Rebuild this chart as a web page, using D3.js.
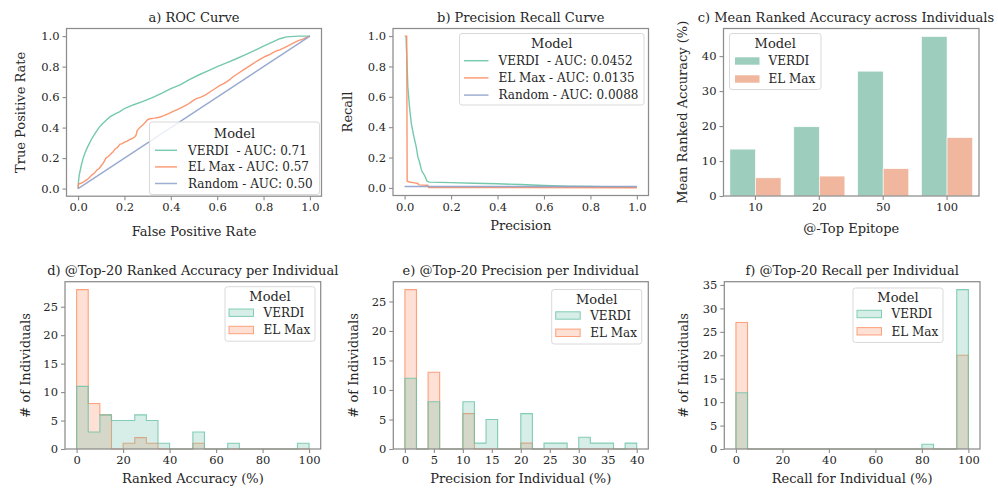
<!DOCTYPE html>
<html>
<head>
<meta charset="utf-8">
<script src="https://cdn.jsdelivr.net/npm/d3@7"></script>
<style>
  html, body { margin: 0; padding: 0; background: #fff; }
  svg { display: block; font-family: "DejaVu Serif", serif; }
</style>
</head>
<body>
<svg id="fig" width="998" height="488"></svg>
<script>
// ---------- data ----------
const models = ["VERDI", "EL Max"];

// ROC curves, [false positive rate, true positive rate]
const rocVerdi = [[0,0],[0.002,0.05],[0.005,0.09],[0.01,0.125],[0.015,0.16],[0.022,0.2],[0.03,0.235],
  [0.04,0.27],[0.05,0.3],[0.06,0.33],[0.075,0.365],[0.09,0.4],[0.105,0.425],[0.12,0.447],[0.137,0.47],
  [0.16,0.49],[0.18,0.505],[0.2,0.525],[0.24,0.55],[0.28,0.572],[0.32,0.597],[0.36,0.625],[0.4,0.655],
  [0.44,0.68],[0.48,0.715],[0.52,0.745],[0.56,0.772],[0.6,0.8],[0.64,0.825],[0.68,0.85],[0.72,0.877],
  [0.76,0.905],[0.8,0.935],[0.84,0.963],[0.87,0.983],[0.9,0.995],[0.95,1],[1,1]];
const rocElMax = [[0,0],[0.002,0.03],[0.012,0.035],[0.02,0.04],[0.03,0.05],[0.04,0.06],[0.05,0.075],
  [0.06,0.09],[0.07,0.1],[0.08,0.12],[0.09,0.13],[0.1,0.15],[0.11,0.17],[0.12,0.2],[0.13,0.21],
  [0.14,0.225],[0.15,0.24],[0.16,0.26],[0.17,0.27],[0.18,0.29],[0.19,0.295],[0.2,0.305],[0.21,0.31],
  [0.22,0.32],[0.235,0.33],[0.245,0.34],[0.25,0.35],[0.255,0.38],[0.26,0.39],[0.27,0.405],[0.28,0.418],
  [0.29,0.435],[0.3,0.452],[0.31,0.458],[0.33,0.462],[0.35,0.468],[0.37,0.478],[0.39,0.492],[0.41,0.507],
  [0.43,0.52],[0.45,0.535],[0.47,0.55],[0.49,0.57],[0.51,0.59],[0.53,0.6],[0.55,0.615],[0.57,0.635],
  [0.59,0.655],[0.61,0.675],[0.63,0.69],[0.65,0.71],[0.67,0.735],[0.69,0.755],[0.71,0.775],[0.73,0.795],
  [0.75,0.815],[0.77,0.835],[0.79,0.852],[0.81,0.868],[0.83,0.882],[0.85,0.9],[0.87,0.91],[0.89,0.925],
  [0.91,0.94],[0.93,0.955],[0.95,0.97],[0.97,0.98],[0.99,0.995],[1,1]];
const rocRandom = [[0,0],[1,1]];
const rocAuc = {"VERDI": "0.71", "EL Max": "0.57", "Random": "0.50"};

// Precision-recall curves, [precision, recall]
const prVerdi = [[0.006,1.0],[0.01,0.84],[0.014,0.664],[0.021,0.533],[0.029,0.423],[0.04,0.336],
  [0.05,0.27],[0.057,0.204],[0.064,0.171],[0.071,0.127],[0.076,0.105],[0.083,0.09],[0.089,0.072],
  [0.096,0.044],[0.107,0.038],[0.2,0.035],[0.3,0.031],[0.4,0.027],[0.5,0.022],[0.6,0.016],
  [0.7,0.012],[0.8,0.009],[0.9,0.006],[1.0,0.004]];
const prElMax = [[0.0,1.0],[0.009,1.0],[0.011,0.044],[0.021,0.039],[0.043,0.033],[0.057,0.029],
  [0.061,0.02],[0.1,0.018],[0.104,0.002],[1.0,0.001]];
const prRandom = [[0,0.0088],[1,0.0088]];
const prAuc = {"VERDI": "0.0452", "EL Max": "0.0135", "Random": "0.0088"};

// Mean ranked accuracy (%) at each top-k cutoff
const topK = ["10", "20", "50", "100"];
const meanAccVerdi = [13.4, 19.8, 35.7, 45.6];
const meanAccElMax = [5.2, 5.7, 7.8, 16.7];

// Per-individual histograms (counts per bin)
const accBinEdges = d3.range(0, 101, 5);
const accCountsVerdi = [11,3,6,5,5,6,5,1,0,0,3,0,0,1,0,0,0,0,0,1];
const accCountsElMax = [28,8,6,0,1,2,1,0,0,0,1,0,0,0,0,0,0,0,0,0];

const precBinEdges = d3.range(0, 41, 2);
const precCountsVerdi = [12,0,8,0,0,8,1,5,0,0,6,0,1,1,0,2,1,1,0,1];
const precCountsElMax = [27,0,13,0,0,6,0,0,0,0,1,0,0,0,0,0,0,0,0,0];

const recBinEdges = d3.range(0, 101, 5);
const recCountsVerdi = [12,0,0,0,0,0,0,0,0,0,0,0,0,0,0,0,1,0,0,34];
const recCountsElMax = [27,0,0,0,0,0,0,0,0,0,0,0,0,0,0,0,0,0,0,20];

// ---------- style ----------
const colors = {"VERDI": "#66c2a5", "EL Max": "#fc8d62", "Random": "#8da0cb"};
const barColors = {"VERDI": "#9ccdbd", "EL Max": "#f0b69e"};
const textColor = "#262626";
const spineColor = "#8c8c8c";
const FONT_TICK = 11.5, FONT_LABEL = 13, FONT_TITLE = 13, FONT_LEG = 12, FONT_LEG_TITLE = 13;

const svg = d3.select("#fig");

function panel(box) {
  const g = svg.append("g");
  return {g, box};
}

function frame(p) {
  const b = p.box;
  p.g.append("rect").attr("x", b.x0).attr("y", b.y0)
    .attr("width", b.x1 - b.x0).attr("height", b.y1 - b.y0)
    .attr("fill", "none").attr("stroke", spineColor).attr("stroke-width", 1.25);
}

function styleAxis(sel) {
  sel.select(".domain").remove();
  sel.selectAll(".tick line").attr("stroke", spineColor).attr("stroke-width", 1.1);
  sel.selectAll(".tick text").attr("fill", textColor).attr("font-size", FONT_TICK)
    .attr("font-family", "DejaVu Serif");
}

function axes(p, x, y, xTicks, yTicks, xFmt, yFmt) {
  const b = p.box;
  const ax = d3.axisBottom(x).tickSize(4).tickPadding(3);
  if (xTicks) ax.tickValues(xTicks);
  if (xFmt) ax.tickFormat(xFmt);
  p.g.append("g").attr("transform", `translate(0,${b.y1})`).call(ax).call(styleAxis);
  const ay = d3.axisLeft(y).tickSize(4).tickPadding(3).tickValues(yTicks);
  if (yFmt) ay.tickFormat(yFmt);
  p.g.append("g").attr("transform", `translate(${b.x0},0)`).call(ay).call(styleAxis);
}

// t: {text, x (optional)}, xl: {text, y}, yl: {text, dx}
function labels(p, t, xl, yl) {
  const b = p.box;
  const cx = (b.x0 + b.x1) / 2, cy = (b.y0 + b.y1) / 2;
  p.g.append("text").attr("x", t.x !== undefined ? t.x : cx).attr("y", b.y0 - 6.5)
    .attr("text-anchor", "middle").attr("font-size", FONT_TITLE)
    .attr("fill", textColor).text(t.text);
  p.g.append("text").attr("x", cx).attr("y", xl.y)
    .attr("text-anchor", "middle").attr("font-size", FONT_LABEL).attr("fill", textColor).text(xl.text);
  p.g.append("text").attr("transform", `translate(${b.x0 - yl.dx},${cy}) rotate(-90)`)
    .attr("text-anchor", "middle").attr("dy", "0.35em").attr("font-size", FONT_LABEL)
    .attr("fill", textColor).text(yl.text);
}

// legend: items [{name, label, kind: "line"|"bar"|"hist"}]
function legend(p, lx, ly, w, h, items, opts) {
  const g = p.g.append("g").attr("transform", `translate(${lx},${ly})`);
  g.append("rect").attr("width", w).attr("height", h).attr("rx", 2.5)
    .attr("fill", "#fff").attr("fill-opacity", 0.8).attr("stroke", "#d9d9d9").attr("stroke-width", 1);
  g.append("text").attr("x", w / 2 + (opts.titleDx || 0)).attr("y", opts.titleY)
    .attr("text-anchor", "middle").attr("dy", "0.35em").attr("font-size", FONT_LEG_TITLE)
    .attr("fill", textColor).text("Model");
  items.forEach((it, i) => {
    const yy = opts.firstY + i * opts.step;
    if (it.kind === "line") {
      g.append("line").attr("x1", opts.mx0).attr("x2", opts.mx1).attr("y1", yy).attr("y2", yy)
        .attr("stroke", colors[it.name]).attr("stroke-width", 1.5).attr("stroke-opacity", 0.85);
    } else if (it.kind === "bar") {
      g.append("rect").attr("x", opts.mx0).attr("y", yy - 3.7).attr("width", opts.mx1 - opts.mx0)
        .attr("height", 7.4).attr("fill", barColors[it.name]);
    } else {
      g.append("rect").attr("x", opts.mx0).attr("y", yy - 3.7).attr("width", opts.mx1 - opts.mx0)
        .attr("height", 7.4).attr("fill", colors[it.name]).attr("fill-opacity", 0.27)
        .attr("stroke", colors[it.name]).attr("stroke-opacity", 0.8).attr("stroke-width", 1);
    }
    g.append("text").attr("x", opts.tx).attr("y", yy).attr("dy", "0.35em")
      .attr("font-size", FONT_LEG).attr("fill", textColor)
      .style("white-space", "pre").text(it.label);
  });
}

const fmt1 = d3.format(".1f");

// ---------- a) ROC curve ----------
{
  const p = panel({x0: 66.5, x1: 321.5, y0: 28.5, y1: 196.2});
  const x = d3.scaleLinear().domain([-0.05, 1.05]).range([p.box.x0, p.box.x1]);
  const y = d3.scaleLinear().domain([-0.05, 1.05]).range([p.box.y1, p.box.y0]);
  const line = d3.line().x(d => x(d[0])).y(d => y(d[1]));
  [["VERDI", rocVerdi], ["EL Max", rocElMax], ["Random", rocRandom]].forEach(([n, data]) => {
    p.g.append("path").attr("d", line(data)).attr("fill", "none")
      .attr("stroke", colors[n]).attr("stroke-width", 1.4).attr("stroke-opacity", 0.9);
  });
  frame(p);
  const t = [0, 0.2, 0.4, 0.6, 0.8, 1.0];
  axes(p, x, y, t, t, fmt1, fmt1);
  labels(p, {text: "a) ROC Curve"}, {text: "False Positive Rate", y: 235.5},
    {text: "True Positive Rate", dx: 46});
  legend(p, 149.5, 122, 170, 72.5, [
    {name: "VERDI", label: "VERDI  - AUC: " + rocAuc["VERDI"], kind: "line"},
    {name: "EL Max", label: "EL Max - AUC: " + rocAuc["EL Max"], kind: "line"},
    {name: "Random", label: "Random - AUC: " + rocAuc["Random"], kind: "line"}
  ], {titleY: 11, firstY: 28.3, step: 16.6, mx0: 5.5, mx1: 27.5, tx: 38.5});
}

// ---------- b) Precision recall curve ----------
{
  const p = panel({x0: 393, x1: 648.5, y0: 28.5, y1: 195.5});
  const x = d3.scaleLinear().domain([-0.05, 1.05]).range([p.box.x0, p.box.x1]);
  const y = d3.scaleLinear().domain([-0.05, 1.05]).range([p.box.y1, p.box.y0]);
  const line = d3.line().x(d => x(d[0])).y(d => y(d[1]));
  [["VERDI", prVerdi], ["EL Max", prElMax], ["Random", prRandom]].forEach(([n, data]) => {
    p.g.append("path").attr("d", line(data)).attr("fill", "none")
      .attr("stroke", colors[n]).attr("stroke-width", 1.4).attr("stroke-opacity", 0.9);
  });
  frame(p);
  const t = [0, 0.2, 0.4, 0.6, 0.8, 1.0];
  axes(p, x, y, t, t, fmt1, fmt1);
  labels(p, {text: "b) Precision Recall Curve"}, {text: "Precision", y: 229.5},
    {text: "Recall", dx: 46});
  legend(p, 459.5, 33.5, 184.5, 71.5, [
    {name: "VERDI", label: "VERDI  - AUC: " + prAuc["VERDI"], kind: "line"},
    {name: "EL Max", label: "EL Max - AUC: " + prAuc["EL Max"], kind: "line"},
    {name: "Random", label: "Random - AUC: " + prAuc["Random"], kind: "line"}
  ], {titleY: 10, firstY: 27.2, step: 17.2, mx0: 4.5, mx1: 29, tx: 39});
}

// ---------- c) Mean ranked accuracy bars ----------
{
  const p = panel({x0: 723.5, x1: 979, y0: 28.5, y1: 196});
  const x = d3.scaleBand().domain(topK).range([p.box.x0, p.box.x1]).padding(0);
  const y = d3.scaleLinear().domain([0, 47.9]).range([p.box.y1, p.box.y0]);
  const sub = d3.scaleBand().domain(models).range([0, x.bandwidth()]).paddingOuter(0.25).paddingInner(0);
  const series = {"VERDI": meanAccVerdi, "EL Max": meanAccElMax};
  models.forEach(m => {
    p.g.selectAll(null).data(topK.map((k, i) => ({k, v: series[m][i]}))).join("rect")
      .attr("x", d => x(d.k) + sub(m)).attr("width", sub.bandwidth())
      .attr("y", d => y(d.v)).attr("height", d => y(0) - y(d.v))
      .attr("fill", barColors[m]).attr("stroke", "#fff").attr("stroke-width", 0.6);
  });
  frame(p);
  axes(p, x, y, null, [0, 10, 20, 30, 40]);
  labels(p, {text: "c) Mean Ranked Accuracy across Individuals", x: 846},
    {text: "@-Top Epitope", y: 232.5}, {text: "Mean Ranked Accuracy (%)", dx: 41});
  legend(p, 729.5, 33.5, 91.5, 56, [
    {name: "VERDI", label: "VERDI", kind: "bar"},
    {name: "EL Max", label: "EL Max", kind: "bar"}
  ], {titleY: 10, firstY: 27.5, step: 18, mx0: 5.5, mx1: 30, tx: 39});
}

// ---------- histogram helper ----------
function histPanel(box, edges, counts, xDomain, yMax, xTicks, yTicks, title, xl, yl, leg) {
  const p = panel(box);
  const x = d3.scaleLinear().domain(xDomain).range([box.x0, box.x1]);
  const y = d3.scaleLinear().domain([0, yMax]).range([box.y1, box.y0]);
  const line = d3.line().x(d => x(d[0])).y(d => y(d[1]));
  // EL Max underneath, VERDI on top
  ["EL Max", "VERDI"].forEach(m => {
    const c = counts[m];
    const pts = [[edges[0], 0]];
    c.forEach((v, i) => { pts.push([edges[i], v]); pts.push([edges[i + 1], v]); });
    pts.push([edges[edges.length - 1], 0]);
    p.g.append("path").attr("d", line(pts) + "Z")
      .attr("fill", colors[m]).attr("fill-opacity", 0.27).attr("stroke", "none");
    p.g.append("path").attr("d", line(pts)).attr("fill", "none")
      .attr("stroke", colors[m]).attr("stroke-opacity", 0.8).attr("stroke-width", 1.1);
  });
  frame(p);
  axes(p, x, y, xTicks, yTicks);
  labels(p, {text: title}, {text: xl, y: 483}, yl);
  legend(p, leg.x, leg.y, 90, 54.5, [
    {name: "VERDI", label: "VERDI", kind: "hist"},
    {name: "EL Max", label: "EL Max", kind: "hist"}
  ], {titleY: 9.5, firstY: 26, step: 17.3, mx0: 4, mx1: 28.5, tx: 38.5});
}

// ---------- d) ranked accuracy per individual ----------
histPanel({x0: 65, x1: 320.7, y0: 281.7, y1: 449}, accBinEdges,
  {"VERDI": accCountsVerdi, "EL Max": accCountsElMax}, [-5, 105], 29.4,
  [0, 20, 40, 60, 80, 100], [0, 5, 10, 15, 20, 25],
  "d) @Top-20 Ranked Accuracy per Individual", "Ranked Accuracy (%)",
  {text: "# of Individuals", dx: 40}, {x: 225, y: 286.7});

// ---------- e) precision per individual ----------
histPanel({x0: 393.3, x1: 648.3, y0: 281.7, y1: 449}, precBinEdges,
  {"VERDI": precCountsVerdi, "EL Max": precCountsElMax}, [-2, 42], 28.35,
  [0, 5, 10, 15, 20, 25, 30, 35, 40], [0, 5, 10, 15, 20, 25],
  "e) @Top-20 Precision per Individual", "Precision for Individual (%)",
  {text: "# of Individuals", dx: 40}, {x: 551.7, y: 289.5});

// ---------- f) recall per individual ----------
histPanel({x0: 724.3, x1: 980, y0: 281.7, y1: 449}, recBinEdges,
  {"VERDI": recCountsVerdi, "EL Max": recCountsElMax}, [-5, 105], 35.7,
  [0, 20, 40, 60, 80, 100], [0, 5, 10, 15, 20, 25, 30, 35],
  "f) @Top-20 Recall per Individual", "Recall for Individual (%)",
  {text: "# of Individuals", dx: 41}, {x: 853, y: 288});
</script>
</body>
</html>
